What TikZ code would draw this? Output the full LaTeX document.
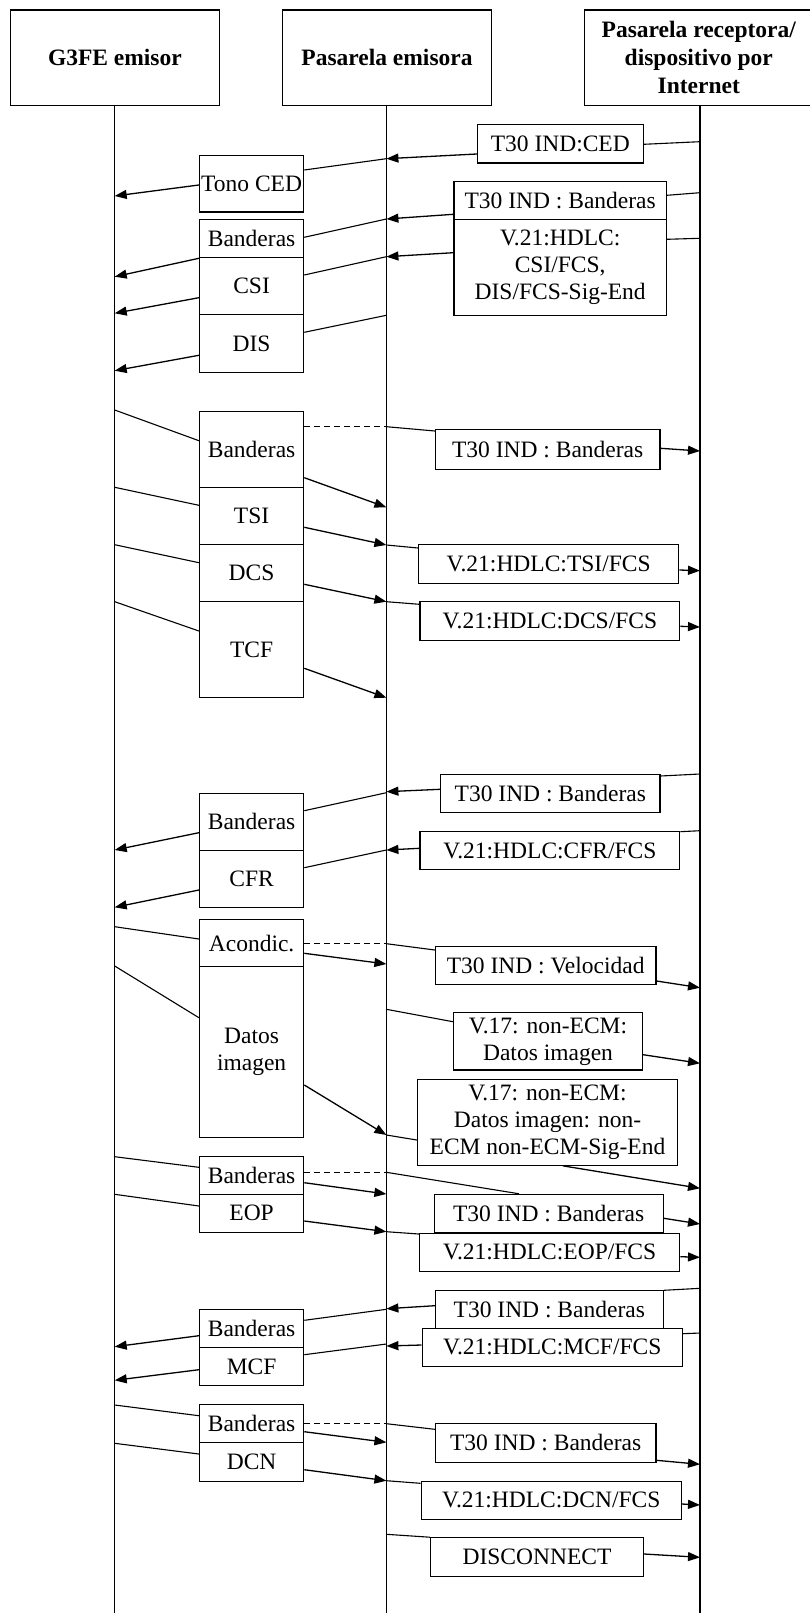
\documentclass[tikz,border=0pt]{standalone}
\usepackage{fontspec}
\setmainfont{Liberation Serif}
\usetikzlibrary{arrows.meta}
\begin{document}
\begin{tikzpicture}[x=1pt,y=-1pt,
  every node/.style={font=\fontsize{23.5}{27}\selectfont},
  box/.style={draw,line width=1.1pt,rectangle,inner sep=0pt,align=center},
  head/.style={box,font=\fontsize{23.5}{28}\selectfont\bfseries},
  lbox/.style={box,minimum width=104.3pt},
  arr/.style={line width=1.3pt,-{Triangle[length=12pt,width=9pt]}},
  dsh/.style={line width=1.2pt,dash pattern=on 6pt off 4pt},
  line width=1.1pt]
\useasboundingbox (0,0) rectangle (810,1613);
% headers
\node[head,minimum width=209.2pt,minimum height=95.3pt] (h1) at (114.9,57.7) {G3FE emisor};
\node[head,minimum width=208.7pt,minimum height=95.3pt] (h2) at (387,57.7) {Pasarela emisora};
\node[head,minimum width=229pt,minimum height=95.3pt] (h3) at (698.8,57.7) {Pasarela receptora/\\dispositivo por\\Internet};
\coordinate (L1) at (114.7,105.3);
\coordinate (L2) at (386.4,105.3);
\coordinate (L3) at (700,105.3);
\draw (L1) -- (L1 |- 0,1613);
\draw (L2) -- (L2 |- 0,1613);
\draw (L3) -- (L3 |- 0,1613);
% right boxes
\node[box,minimum width=165.9pt,minimum height=38.3pt] (ced) at (560.3,143.9) {T30 IND:CED};
\node[box,minimum width=212.4pt,minimum height=38pt] (tbA) at (560.2,200.7) {T30 IND : Banderas};
\node[box,minimum width=212.4pt,minimum height=95.6pt] (v21a) at (560.2,267.5) {V.21:HDLC:\\CSI/FCS,\\DIS/FCS-Sig-End};
\node[box,minimum width=224.6pt,minimum height=39.7pt] (tbB) at (547.7,449.2) {T30 IND : Banderas};
\node[box,minimum width=260.3pt,minimum height=38.3pt] (tsiR) at (548.6,563.9) {V.21:HDLC:TSI/FCS};
\node[box,minimum width=259.8pt,minimum height=38.3pt] (dcsR) at (549.9,620.9) {V.21:HDLC:DCS/FCS};
\node[box,minimum width=219.4pt,minimum height=38.3pt] (tbC) at (550.3,793.2) {T30 IND : Banderas};
\node[box,minimum width=259.8pt,minimum height=38.4pt] (cfrR) at (549.9,850.5) {V.21:HDLC:CFR/FCS};
\node[box,minimum width=220.6pt,minimum height=37.6pt] (vel) at (545.7,965.5) {T30 IND : Velocidad};
\node[box,minimum width=189.1pt,minimum height=57.3pt] (v17a) at (548,1041.3) {V.17: non-ECM:\\Datos imagen};
\node[box,minimum width=260.3pt,minimum height=86pt] (v17b) at (547.5,1122.3) {V.17: non-ECM:\\Datos imagen: non-\\ECM non-ECM-Sig-End};
\node[box,minimum width=229.3pt,minimum height=38pt] (tbD) at (548.7,1213.3) {T30 IND : Banderas};
\node[box,minimum width=260.4pt,minimum height=37.7pt] (eopR) at (549.6,1252.2) {V.21:HDLC:EOP/FCS};
\node[box,minimum width=227.9pt,minimum height=38.3pt] (tbE) at (549.3,1309.2) {T30 IND : Banderas};
\node[box,minimum width=260.3pt,minimum height=38pt] (mcfR) at (552.2,1347.3) {V.21:HDLC:MCF/FCS};
\node[box,minimum width=220.6pt,minimum height=38.3pt] (tbF) at (545.7,1442.9) {T30 IND : Banderas};
\node[box,minimum width=260.3pt,minimum height=38.3pt] (dcnR) at (551.2,1500.2) {V.21:HDLC:DCN/FCS};
\node[box,minimum width=213.3pt,minimum height=38.3pt] (disc) at (537,1556.9) {DISCONNECT};
% left boxes
\node[lbox,minimum height=56.3pt] (tono) at (251.6,183.9) {Tono CED};
\node[lbox,minimum height=38pt] (band1) at (251.6,238.7) {Banderas};
\node[lbox,minimum height=57pt] (csi) at (251.6,286.2) {CSI};
\node[lbox,minimum height=57.3pt] (dis) at (251.6,343.4) {DIS};
\node[lbox,minimum height=76.3pt] (band2) at (251.6,449.2) {Banderas};
\node[lbox,minimum height=57.4pt] (tsi) at (251.6,516) {TSI};
\node[lbox,minimum height=57pt] (dcs) at (251.6,573.2) {DCS};
\node[lbox,minimum height=96pt] (tcf) at (251.6,649.7) {TCF};
\node[lbox,minimum height=56.7pt] (band3) at (251.6,821.7) {Banderas};
\node[lbox,minimum height=57.3pt] (cfr) at (251.6,878.7) {CFR};
\node[lbox,minimum height=47pt] (acon) at (251.6,943.2) {Acondic.};
\node[lbox,minimum height=170.6pt] (datos) at (251.6,1052) {Datos\\imagen};
\node[lbox,minimum height=38.3pt] (band4) at (251.6,1175.2) {Banderas};
\node[lbox,minimum height=38pt] (eop) at (251.6,1213.3) {EOP};
\node[lbox,minimum height=38.3pt] (band5) at (251.6,1328.2) {Banderas};
\node[lbox,minimum height=38.4pt] (mcf) at (251.6,1366.5) {MCF};
\node[lbox,minimum height=38.4pt] (band6) at (251.6,1423.5) {Banderas};
\node[lbox,minimum height=38.3pt] (dcn) at (251.6,1461.9) {DCN};
% section 1
\draw (L3 |- 0,141.7) -- (ced.east |- 0,144.3);
\draw[arr] (ced.west |- 0,154) -- (L2 |- 0,158.7);
\draw (L2 |- 0,158.7) -- (tono.east |- 0,170);
\draw[arr] (tono.west |- 0,185) -- (L1 |- 0,196);
% section 2
\draw (L3 |- 0,192.7) -- (tbA.east |- 0,195.3);
\draw[arr] (tbA.west |- 0,214.3) -- (L2 |- 0,219);
\draw (L3 |- 0,238.3) -- (v21a.east |- 0,239.3);
\draw[arr] (v21a.west |- 0,252.7) -- (L2 |- 0,256.7);
\draw (L2 |- 0,219) -- (band1.east |- 0,237.3);
\draw[arr] (band1.west |- 0,258.3) -- (L1 |- 0,276.7);
\draw (L2 |- 0,256.7) -- (csi.east |- 0,275);
\draw[arr] (csi.west |- 0,297.7) -- (L1 |- 0,313.3);
\draw (L2 |- 0,315.3) -- (dis.east |- 0,332.3);
\draw[arr] (dis.west |- 0,355.3) -- (L1 |- 0,370.7);
% section 3
\draw (L1 |- 0,410) -- (band2.west |- 0,440.7);
\draw[dsh] (band2.east |- 0,426.7) -- (L2 |- 0,426.7);
\draw (L2 |- 0,426.7) -- (tbB.west |- 0,431);
\draw[arr] (tbB.east |- 0,448.3) -- (L3 |- 0,451);
\draw[arr] (band2.east |- 0,477.7) -- (L2 |- 0,507.3);
\draw (L1 |- 0,487.3) -- (tsi.west |- 0,505.3);
\draw[arr] (tsi.east |- 0,527.3) -- (L2 |- 0,545);
\draw (L2 |- 0,545) -- (tsiR.west |- 0,548);
\draw[arr] (tsiR.east |- 0,570) -- (L3 |- 0,570.7);
\draw (L1 |- 0,544.7) -- (dcs.west |- 0,562.7);
\draw[arr] (dcs.east |- 0,584.3) -- (L2 |- 0,601.7);
\draw (L2 |- 0,601.7) -- (dcsR.west |- 0,604.3);
\draw[arr] (dcsR.east |- 0,626.3) -- (L3 |- 0,627);
\draw (L1 |- 0,601.7) -- (tcf.west |- 0,631);
\draw[arr] (tcf.east |- 0,668.3) -- (L2 |- 0,697.7);
% section 4
\draw (L3 |- 0,774) -- (tbC.east |- 0,776);
\draw[arr] (tbC.west |- 0,789.3) -- (L2 |- 0,791.7);
\draw (L2 |- 0,792.7) -- (band3.east |- 0,810.7);
\draw[arr] (band3.west |- 0,832.7) -- (L1 |- 0,850);
\draw (L3 |- 0,830.7) -- (cfrR.east |- 0,831.7);
\draw[arr] (cfrR.west |- 0,848.3) -- (L2 |- 0,850);
\draw (L2 |- 0,850) -- (cfr.east |- 0,867.7);
\draw[arr] (cfr.west |- 0,890) -- (L1 |- 0,907.3);
% section 5
\draw (L1 |- 0,926.7) -- (acon.west |- 0,939);
\draw[dsh] (acon.east |- 0,943.7) -- (L2 |- 0,943.7);
\draw (L2 |- 0,943.7) -- (vel.west |- 0,950);
\draw[arr] (vel.east |- 0,981) -- (L3 |- 0,987.7);
\draw[arr] (acon.east |- 0,953.3) -- (L2 |- 0,964);
\draw (L1 |- 0,966) -- (datos.west |- 0,1017.7);
\draw (L2 |- 0,1009.3) -- (v17a.west |- 0,1021.7);
\draw[arr] (v17a.east |- 0,1054.7) -- (L3 |- 0,1063.3);
\draw[arr] (datos.east |- 0,1085) -- (L2 |- 0,1135);
\draw (L2 |- 0,1135) -- (v17b.west |- 0,1140);
\draw[arr] (v17b.south -| 563,0) -- (L3 |- 0,1188.3);
% section 6
\draw (L1 |- 0,1156.7) -- (band4.west |- 0,1167.3);
\draw[dsh] (band4.east |- 0,1172.3) -- (L2 |- 0,1172.3);
\draw (L2 |- 0,1172.3) -- (tbD.north -| 519,0);
\draw[arr] (tbD.east |- 0,1218.3) -- (L3 |- 0,1224);
\draw[arr] (band4.east |- 0,1182.7) -- (L2 |- 0,1194);
\draw (L1 |- 0,1194.3) -- (eop.west |- 0,1206);
\draw[arr] (eop.east |- 0,1221) -- (L2 |- 0,1231.7);
\draw (L2 |- 0,1231.7) -- (eopR.west |- 0,1234);
\draw[arr] (eopR.east |- 0,1256.7) -- (L3 |- 0,1257.3);
% section 7
\draw (L3 |- 0,1288.3) -- (tbE.east |- 0,1290.3);
\draw[arr] (tbE.west |- 0,1305.7) -- (L2 |- 0,1308.7);
\draw (L2 |- 0,1309.3) -- (band5.east |- 0,1320.3);
\draw[arr] (band5.west |- 0,1335.7) -- (L1 |- 0,1346.7);
\draw (L3 |- 0,1333) -- (mcfR.east |- 0,1333.7);
\draw[arr] (mcfR.west |- 0,1345) -- (L2 |- 0,1346);
\draw (L2 |- 0,1344) -- (mcf.east |- 0,1354.7);
\draw[arr] (mcf.west |- 0,1369.7) -- (L1 |- 0,1380.3);
% section 8
\draw (L1 |- 0,1405) -- (band6.west |- 0,1415.7);
\draw[dsh] (band6.east |- 0,1423.7) -- (L2 |- 0,1423.7);
\draw (L2 |- 0,1423.7) -- (tbF.west |- 0,1429.3);
\draw[arr] (tbF.east |- 0,1460.3) -- (L3 |- 0,1464.3);
\draw[arr] (band6.east |- 0,1431.7) -- (L2 |- 0,1442.3);
\draw (L1 |- 0,1443.3) -- (dcn.west |- 0,1454);
\draw[arr] (dcn.east |- 0,1469.7) -- (L2 |- 0,1480.7);
\draw (L2 |- 0,1480.7) -- (dcnR.west |- 0,1483.3);
\draw[arr] (dcnR.east |- 0,1504) -- (L3 |- 0,1505);
\draw (L2 |- 0,1534.3) -- (disc.north west);
\draw[arr] (disc.east |- 0,1554) -- (L3 |- 0,1557.3);
\end{tikzpicture}
\end{document}
